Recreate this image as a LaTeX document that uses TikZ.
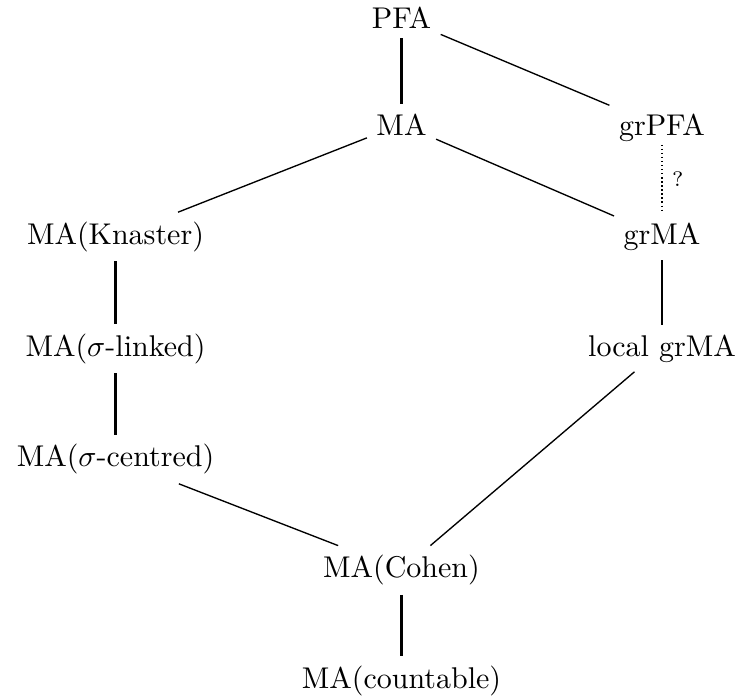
\documentclass[tikz,border=0pt]{standalone}
\begin{document}
\begin{tikzpicture}[x=0.33333pt,y=-0.33333pt,
  obj/.style={anchor=base,inner sep=3pt},
  vline/.style={line width=0.9pt},
  dline/.style={line width=0.45pt},
  qline/.style={line width=0.8pt,dash pattern=on 0.45pt off 0.9pt}]
\useasboundingbox (0,0) rectangle (738,700);
\node[obj] (pfa) at (401.5,28.7) {PFA};
\node[obj] (ma) at (401.5,135) {MA};
\node[obj] (grpfa) at (662,135) {grPFA};
\node[obj] (kn) at (115.5,244.3) {MA(Knaster)};
\node[obj] (grma) at (662,244.3) {grMA};
\node[obj] (sl) at (115.5,356) {MA($\sigma$-linked)};
\node[obj] (lgrma) at (662,356) {local grMA};
\node[obj] (sc) at (115.5,466.7) {MA($\sigma$-centred)};
\node[obj] (co) at (401.5,577.7) {MA(Cohen)};
\node[obj] (ct) at (401.5,688) {MA(countable)};
\draw[vline] (pfa) -- (ma);
\draw[dline] (pfa) -- (grpfa);
\draw[dline] (ma) -- (kn);
\draw[dline] (ma) -- (grma);
\draw[qline] ([yshift=2pt]grpfa.south) -- node[right,inner sep=3pt,font=\scriptsize] {?} (grma.north);
\draw[vline] (kn) -- (sl);
\draw[vline] (sl) -- (sc);
\draw[vline] (grma) -- (lgrma);
\draw[dline] (sc) -- (co);
\draw[dline] (lgrma) -- (co);
\draw[vline] (co) -- (ct);
\end{tikzpicture}
\end{document}
